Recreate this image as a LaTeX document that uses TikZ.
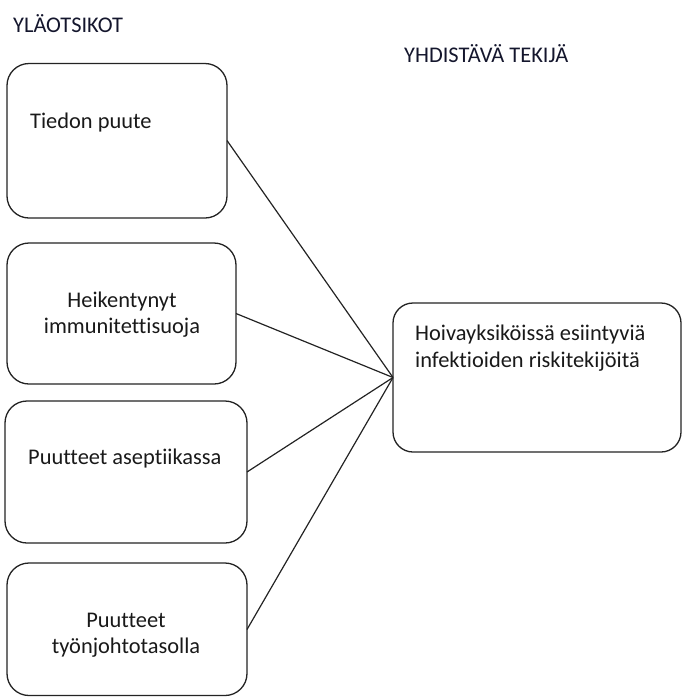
\documentclass[tikz,border=0pt]{standalone}
\usepackage{fontspec}
\setmainfont[Ligatures=NoCommon,RawFeature={-liga;-clig;-dlig}]{Carlito}
\definecolor{txt}{RGB}{25,25,25}
\definecolor{hdr}{RGB}{20,22,45}
\definecolor{ln}{RGB}{35,35,35}
\begin{document}
\begin{tikzpicture}[x=1pt,y=-1pt,
  box/.style={draw=ln,line width=1.3pt,rounded corners=22pt,inner sep=0pt},
  lbl/.style={text=txt,inner sep=0pt,anchor=base west,font=\fontsize{22.4}{27.3}\selectfont},
  clbl/.style={text=txt,inner sep=0pt,anchor=base,font=\fontsize{22.4}{27.3}\selectfont},
  hlbl/.style={text=hdr,inner sep=0pt,anchor=base west,font=\fontsize{22.4}{27.3}\selectfont},
  link/.style={draw=ln,line width=1.2pt}]
\useasboundingbox (0,0) rectangle (682,697);
% headers
\node[hlbl] (h1) at (13,32) {YLÄOTSIKOT};
\node[hlbl] (h2) at (404,62) {YHDISTÄVÄ TEKIJÄ};
% boxes
\draw[box] (7,63.5) rectangle (227,218);
\coordinate (b1) at (227,140.5);
\draw[box] (7,243) rectangle (236,384);
\coordinate (b2) at (236,313.5);
\draw[box] (5,401) rectangle (247,543);
\coordinate (b3) at (247,472);
\draw[box] (7,563) rectangle (247,695.5);
\coordinate (b4) at (247,629.5);
\draw[box,rounded corners=20pt] (393,303) rectangle (681,452);
\coordinate (hub) at (393,377.5);
% texts
\node[lbl] (t1) at (30,128) {Tiedon puute};
\node[clbl] (t2a) at (122,307) {Heikentynyt};
\node[clbl] (t2b) at (122,333) {immunitettisuoja};
\node[lbl] (t3) at (28,464) {Puutteet aseptiikassa};
\node[clbl] (t4a) at (126,627) {Puutteet};
\node[clbl] (t4b) at (126,653.5) {työnjohtotasolla};
\node[lbl] (t5a) at (415,340) {Hoivayksiköissä esiintyviä};
\node[lbl] (t5b) at (415,367) {infektioiden riskitekijöitä};
% connectors
\draw[link] (b1) -- (hub);
\draw[link] (b2) -- (hub);
\draw[link] (b3) -- (hub);
\draw[link] (b4) -- (hub);
\end{tikzpicture}
\end{document}
